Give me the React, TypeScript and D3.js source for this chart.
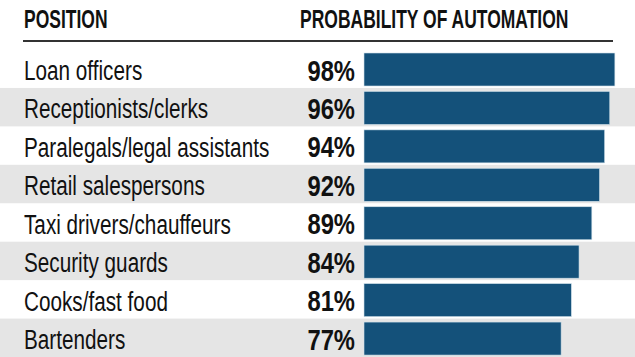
import React from "react";
import * as d3 from "d3";

const positions = [
  "Loan officers",
  "Receptionists/clerks",
  "Paralegals/legal assistants",
  "Retail salespersons",
  "Taxi drivers/chauffeurs",
  "Security guards",
  "Cooks/fast food",
  "Bartenders",
];
const probabilities = [98, 96, 94, 92, 89, 84, 81, 77];
const headers = ["POSITION", "PROBABILITY OF AUTOMATION"];

const W = 635;
const H = 357;
const FONT = "'Liberation Sans', Arial, sans-serif";

export default function App() {
  const y = d3.scaleBand<string>().domain(positions).range([49.5, 357]).paddingInner(0);
  const x = d3.scaleLinear().domain([0, 100]).range([364, 620]);
  const bh = y.bandwidth();
  const sxHead = 0.7;
  const sxLabel = 0.74;
  const sxPct = 0.82;
  return (
    <svg
      width={W}
      height={H}
      style={{ position: "absolute", left: 0, top: 0, background: "#fff" }}
    >
      {positions.map((p, i) =>
        i % 2 === 1 ? (
          <rect key={"bg" + i} x={0} y={y(p)} width={W} height={bh} fill="#e5e5e5" />
        ) : null
      )}
      <text
        transform={`translate(24,28) scale(${sxHead},1)`}
        fontFamily={FONT}
        fontSize={25}
        fontWeight={700}
        fill="#111"
      >
        {headers[0]}
      </text>
      <text
        transform={`translate(300,28) scale(${sxHead},1)`}
        fontFamily={FONT}
        fontSize={25}
        fontWeight={700}
        fill="#111"
      >
        {headers[1]}
      </text>
      <line x1={23} x2={613} y1={41} y2={41} stroke="#333" strokeWidth={2} />
      {positions.map((p, i) => {
        const top = y(p)!;
        const v = probabilities[i];
        return (
          <g key={p}>
            <text
              transform={`translate(24,${top + 30.5}) scale(${sxLabel},1)`}
              fontFamily={FONT}
              fontSize={28}
              fill="#111"
            >
              {p}
            </text>
            <text
              transform={`translate(355,${top + 31}) scale(${sxPct},1)`}
              textAnchor="end"
              fontFamily={FONT}
              fontSize={29}
              fontWeight={700}
              fill="#111"
            >
              {v + "%"}
            </text>
            <rect
              x={x(0)}
              y={top + 3.5}
              width={x(v) - x(0)}
              height={33}
              fill="#14517a"
              stroke="#cfe0ea"
              strokeWidth={0.6}
            />
          </g>
        );
      })}
    </svg>
  );
}
